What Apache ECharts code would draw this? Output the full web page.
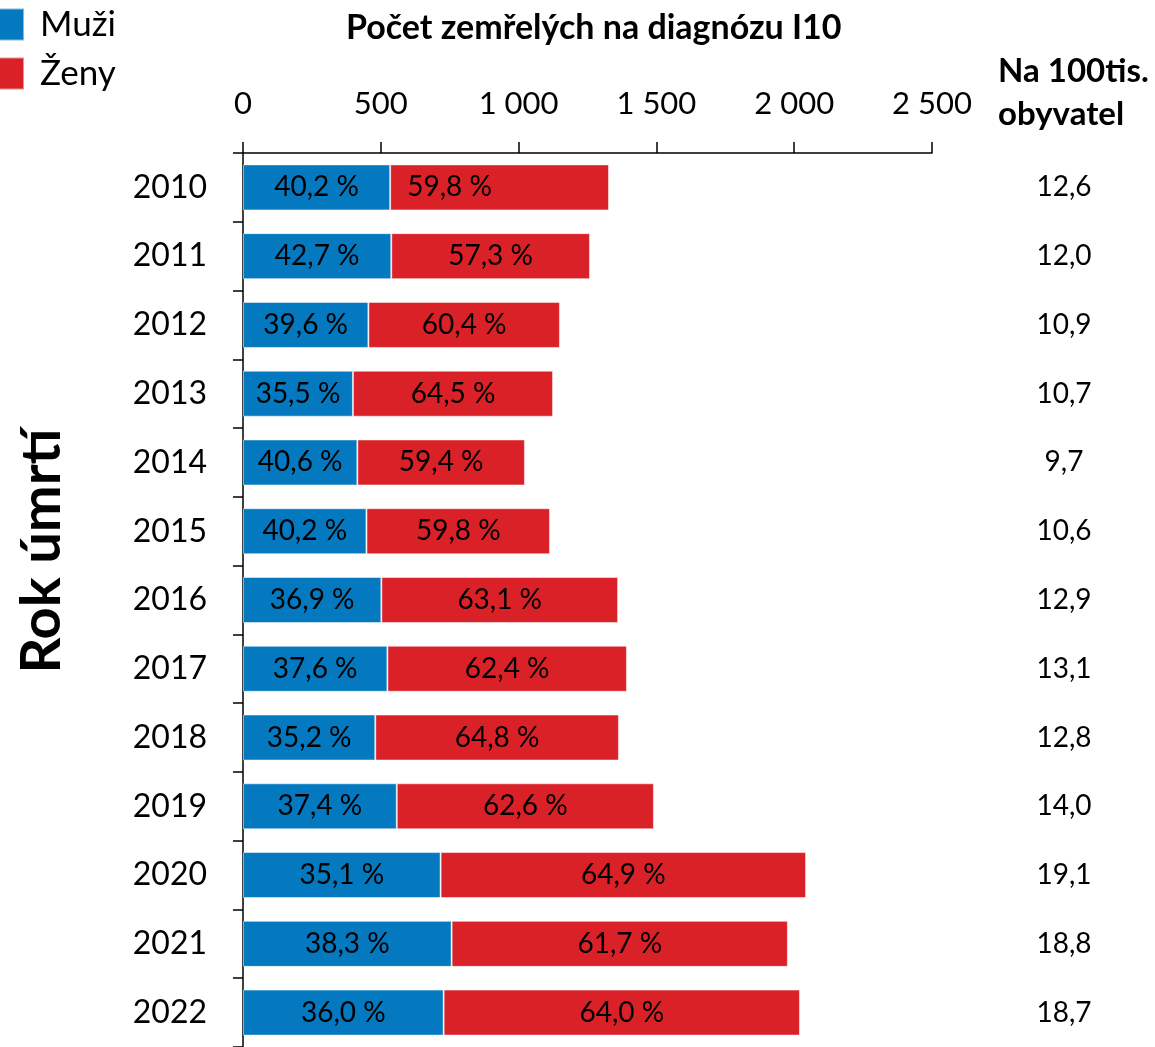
<!DOCTYPE html>
<html>
<head>
<meta charset="utf-8">
<script src="https://cdn.jsdelivr.net/npm/echarts@6/dist/echarts.min.js"></script>
<style>
html,body{margin:0;padding:0;background:#fff;overflow:hidden;}
#c{width:1155px;height:1047px;}
</style>
</head>
<body>
<div id="c"></div>
<script>
var years = ['2010','2011','2012','2013','2014','2015','2016','2017','2018','2019','2020','2021','2022'];
var men =   [534, 538, 455, 399, 415, 448, 502, 524, 480, 558, 717, 757, 728];
var women = [794, 721, 695, 726, 608, 666, 859, 869, 884, 933, 1326, 1220, 1293];
var menPct =   ['40,2 %','42,7 %','39,6 %','35,5 %','40,6 %','40,2 %','36,9 %','37,6 %','35,2 %','37,4 %','35,1 %','38,3 %','36,0 %'];
var womenPct = ['59,8 %','57,3 %','60,4 %','64,5 %','59,4 %','59,8 %','63,1 %','62,4 %','64,8 %','62,6 %','64,9 %','61,7 %','64,0 %'];
var rates = ['12,6','12,0','10,9','10,7','9,7','10,6','12,9','13,1','12,8','14,0','19,1','18,8','18,7'];
var xTicks = [0, 500, 1000, 1500, 2000, 2500];

var FONT = 'Lato, "Open Sans", sans-serif';
var womenData = women.map(function (v, i) {
  return i === 0 ? {value: v, label: {offset: [-50, 0]}} : v;
});
var chart = echarts.init(document.getElementById('c'));
chart.setOption({
  animation: false,
  textStyle: {fontFamily: FONT, color: '#000'},
  color: ['#0479C0', '#DA2128'],
  legend: {
    data: ['Muži', 'Ženy'],
    orient: 'vertical',
    left: -14, top: 2,
    itemWidth: 32, itemHeight: 32, itemGap: 14,
    icon: 'rect',
    textStyle: {fontSize: 35, fontFamily: FONT, color: '#000', padding: [0, 0, 4, 11]}
  },
  graphic: [
    {type: 'text', left: 346, top: 11, style: {text: 'Počet zemřelých na diagnózu I10', font: 'bold 34px ' + FONT, fill: '#000'}},
    {type: 'text', left: 998, top: 50, style: {text: 'Na 100tis.\nobyvatel', font: 'bold 33px ' + FONT, fill: '#000', lineHeight: 43}},
    {type: 'text', x: 42, y: 551, rotation: Math.PI / 2,
      style: {text: 'Rok úmrtí', font: 'bold 56px ' + FONT, fill: '#000', textAlign: 'center', textVerticalAlign: 'middle'}}
  ],
  grid: {left: 243, right: 223, top: 153, bottom: -3, containLabel: false},
  xAxis: {
    type: 'value', position: 'top',
    min: xTicks[0], max: xTicks[xTicks.length - 1], interval: 500,
    axisLine: {show: true, lineStyle: {color: '#000', width: 1.5}},
    axisTick: {show: true, length: 11, lineStyle: {color: '#000', width: 1.5}},
    splitLine: {show: false},
    axisLabel: {
      fontSize: 31, color: '#000', margin: 34, fontFamily: FONT,
      formatter: function (v) { return String(v).replace(/\B(?=(\d{3})+(?!\d))/g, ' '); }
    }
  },
  yAxis: [{
    type: 'category', data: years, inverse: true,
    axisLine: {show: true, lineStyle: {color: '#000', width: 1.5}},
    axisTick: {show: true, length: 10, lineStyle: {color: '#000', width: 1.5}},
    axisLabel: {fontSize: 32, color: '#000', margin: 36, fontFamily: FONT}
  }, {
    type: 'category', data: rates, inverse: true, position: 'right',
    axisLine: {show: false}, axisTick: {show: false},
    axisLabel: {fontSize: 28, color: '#000', margin: 132, align: 'center', fontFamily: FONT, padding: [0, 0, 6, 0]}
  }],
  series: [{
    name: 'Muži', type: 'bar', stack: 't', data: men, barWidth: 46,
    itemStyle: {color: '#0479C0', borderColor: 'rgba(255,255,255,0.5)', borderWidth: 1},
    label: {show: true, position: 'inside', fontSize: 28, color: '#000', fontFamily: FONT,
      formatter: function (p) { return menPct[p.dataIndex]; }}
  }, {
    name: 'Ženy', type: 'bar', stack: 't', data: womenData, barWidth: 46,
    itemStyle: {color: '#DA2128', borderColor: 'rgba(255,255,255,0.5)', borderWidth: 1},
    label: {show: true, position: 'inside', fontSize: 28, color: '#000', fontFamily: FONT,
      formatter: function (p) { return womenPct[p.dataIndex]; }}
  }]
});
</script>
</body>
</html>
